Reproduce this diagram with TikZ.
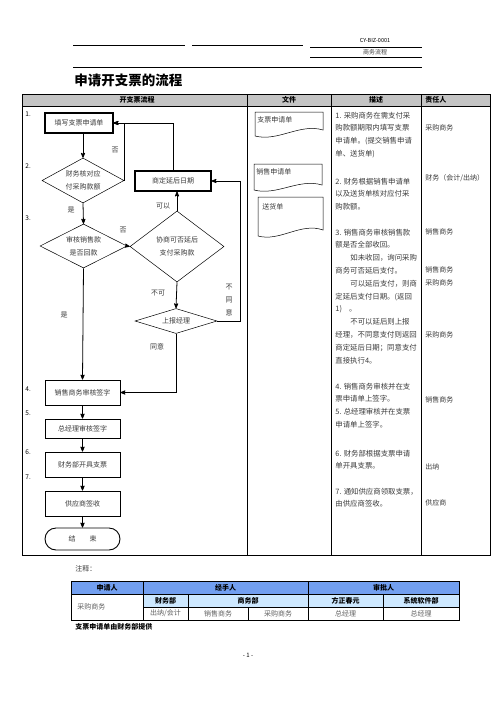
\documentclass[tikz,border=0pt]{standalone}
\usepackage{fontspec}
\setmainfont{Noto Sans CJK SC}
\usepackage{tikz}
\usetikzlibrary{arrows, shapes.geometric}

\definecolor{hdrgray}{HTML}{C4C4C4}
\definecolor{noteblue}{HTML}{729FF0}
\definecolor{notelight}{HTML}{CDE8FF}
\definecolor{txtgray}{HTML}{3A3A3A}

\newcommand{\smallcn}{\fontsize{7}{12.8}\selectfont}
\newcommand{\desccn}{\fontsize{7.4}{12.8}\selectfont}

\begin{document}
\begin{tikzpicture}[x=1pt, y=-1pt, >=stealth', line width=0.8pt,
	proc/.style={draw, line width=0.9pt, minimum height=20pt, inner sep=0pt, font=\smallcn, text=txtgray},
	decide/.style={draw, line width=0.5pt, diamond, aspect=2, inner sep=0pt, align=center, font=\smallcn, text=txtgray},
	lbl/.style={font=\smallcn, text=txtgray, inner sep=0pt},
	desc/.style={anchor=north west, align=left, inner sep=0pt, font=\desccn, text=txtgray},
	hdr/.style={font=\fontsize{7}{8}\selectfont\bfseries, inner sep=0pt},
	cell/.style={font=\fontsize{7}{8}\selectfont, text=txtgray!80, inner sep=0pt}]
	\useasboundingbox (0,0) rectangle (496,702);

	% page head
	\draw (73,45) -- (185,45) (192,45) -- (303,45) (310,47) -- (422,47) (310,57) -- (422,57) (73,67) -- (422,67);
	\node[font=\fontsize{5.5}{6}\selectfont, inner sep=0pt] (docno) at (375,40) {CY-BIZ-0001};
	\node[font=\fontsize{6}{7}\selectfont, text=txtgray, inner sep=0pt] (doctype) at (375,52) {商务流程};
	\node[anchor=west, font=\fontsize{13.5}{15}\selectfont\bfseries, inner sep=0pt] (title) at (74,80) {申请开支票的流程};

	% main table
	\fill[hdrgray] (22,94) rectangle (490,106);
	\draw[line width=1pt] (22,94) rectangle (490,555);
	\draw[line width=1pt] (22,106) -- (490,106) (247,94) -- (247,555) (331,94) -- (331,555) (421,94) -- (421,555);
	\node[hdr] (hflow) at (137,100) {开支票流程};
	\node[hdr] (hfile) at (289,100) {文件};
	\node[hdr] (hdesc) at (376,100) {描述};
	\node[hdr, anchor=west] (hresp) at (425,100) {责任人};

	% step numbers
	\foreach \n/\y in {1/114, 2/166, 3/218, 4/389, 5/413, 6/452, 7/477}
		\node[font=\fontsize{6.5}{7}\selectfont, inner sep=0pt, anchor=west] (num\n) at (25,\y) {\n.};

	\node[proc, line width=1.1pt, minimum width=68pt] (fill) at (79,123) {填写支票申请单};
	\node[decide, minimum width=82pt, minimum height=45pt] (chk) at (83,180.5) {财务核对应\\付采购款额};
	\node[decide, minimum width=87pt, minimum height=44pt] (rcv) at (83.5,246) {审核销售款\\是否回款};
	\node[decide, aspect=1.3, minimum width=94pt, minimum height=71pt] (ngt) at (177,246.5) {协商可否延后\\支付采购款};
	\node[proc, line width=1.1pt, minimum width=76pt] (delay) at (173,181) {商定延后日期};
	\node[decide, minimum width=82pt, minimum height=25pt] (mgr) at (176,321) {上报经理};
	\node[proc, minimum width=75pt, minimum height=25pt] (sgn) at (82.5,392.5) {销售商务审核签字};
	\node[proc, minimum width=75pt, minimum height=19pt] (gm) at (82.5,428.5) {总经理审核签字};
	\node[proc, minimum width=75pt, minimum height=25pt] (pay) at (82.5,464.5) {财务部开具支票};
	\node[proc, minimum width=75pt, minimum height=25pt] (sup) at (82.5,503.5) {供应商签收};
	\node[proc, rounded corners=11pt, minimum width=75pt, minimum height=22pt] (fin) at (82.5,539) {结\hspace{14pt}束};

	\path[->] (fill.south -| chk.north) edge (chk.north)
		(chk.south) edge (rcv.north)
		(rcv.east) edge (ngt.west)
		(ngt.north) edge (delay.south -| ngt.north)
		(ngt.south) edge (mgr.north)
		(rcv.south) edge (sgn.north)
		(sgn) edge (gm)
		(gm) edge (pay)
		(pay) edge (sup)
		(sup) edge (fin);
	\draw[->] (chk.east) |- (fill.east);
	\draw[->] (delay.north) |- (fill.east);
	\coordinate (rback) at (240,321);
	\draw[->] (mgr.east) -- (rback) |- (delay.east);
	\draw[->] (mgr.south) |- (sgn.east);

	\node[lbl] (no1) at (115,150) {否};
	\node[lbl] (yes1) at (71,210) {是};
	\node[lbl] (no2) at (123,230) {否};
	\node[lbl] (can) at (163,206) {可以};
	\node[lbl] (cannot) at (158,293) {不可};
	\node[lbl, align=center, font=\fontsize{7}{13}\selectfont] (disagree) at (229,300) {不\\同\\意};
	\node[lbl] (agree) at (157,347) {同意};
	\node[lbl] (yes2) at (64,315) {是};

	% documents
	\draw[line width=0.5pt] (255,136) -- (255,112) -- (323,112) -- (323,130) .. controls (300,123) and (278,142) .. (255,136);
	\draw[line width=0.5pt] (254,190) -- (254,164) -- (322,164) -- (322,185) .. controls (299,178) and (277,196) .. (254,190);
	\draw[line width=0.5pt] (258,236) -- (258,197) -- (323,197) -- (323,230) .. controls (301,222) and (280,242) .. (258,236);
	\node[lbl, anchor=west] (docA) at (257,120) {支票申请单};
	\node[lbl, anchor=west] (docB) at (256,172) {销售申请单};
	\node[lbl, anchor=west] (docC) at (262,207) {送货单};

	% descriptions
	\node[desc] (d1) at (335,111.5) {1. 采购商务在需支付采\\购款额期限内填写支票\\申请单。(提交销售申请\\单、送货单)};
	\node[desc] (d2) at (335,177.5) {2. 财务根据销售申请单\\以及送货单核对应付采\\购款额。};
	\node[desc] (d3) at (335,228.5) {3. 销售商务审核销售款\\额是否全部收回。\\\hspace*{15pt}如未收回，询问采购\\商务可否延后支付。\\\hspace*{15pt}可以延后支付，则商\\定延后支付日期。(返回\\1)\hspace{7pt}。\\\hspace*{15pt}不可以延后则上报\\经理，不同意支付则返回\\商定延后日期；同意支付\\直接执行4。};
	\node[desc] (d4) at (335,382.5) {4. 销售商务审核并在支\\票申请单上签字。\\5. 总经理审核并在支票\\申请单上签字。};
	\node[desc] (d6) at (335,449.5) {6. 财务部根据支票申请\\单开具支票。};
	\node[desc] (d7) at (335,487.5) {7. 通知供应商领取支票，\\由供应商签收。};

	% responsibles
	\foreach \t/\y [count=\i] in {采购商务/128, {财务（会计/出纳）}/178, 销售商务/232, 销售商务/270, 采购商务/283, 采购商务/335, 销售商务/400, 出纳/467, 供应商/503}
		\node[lbl, anchor=west] (resp\i) at (425,\y) {\t};

	% notes
	\node[lbl, anchor=west] (notes) at (75,569) {注释：};
	\fill[noteblue] (71,581) rectangle (459,594);
	\fill[notelight] (143,594) rectangle (459,607);
	\draw[line width=0.6pt] (71,581) rectangle (459,620)
		(71,594) -- (459,594) (143,607) -- (459,607)
		(143,581) -- (143,620) (308,581) -- (308,620)
		(188,594) -- (188,620) (383,594) -- (383,620) (248,607) -- (248,620);
	\node[hdr] (napp) at (107,587.5) {申请人};
	\node[hdr] (nhand) at (225.5,587.5) {经手人};
	\node[hdr] (nappr) at (383.5,587.5) {审批人};
	\node[cell, anchor=west] (nbuy) at (77,607) {采购商务};
	\node[hdr] (nfin) at (165.5,600.5) {财务部};
	\node[hdr] (nbiz) at (248,600.5) {商务部};
	\node[hdr] (nfz) at (345.5,600.5) {方正春元};
	\node[hdr] (nsys) at (421,600.5) {系统软件部};
	\node[cell] (ncash) at (165.5,613.5) {出纳/会计};
	\node[cell] (nsale) at (218,613.5) {销售商务};
	\node[cell] (npur) at (278,613.5) {采购商务};
	\node[cell] (ngm1) at (345.5,613.5) {总经理};
	\node[cell] (ngm2) at (421,613.5) {总经理};
	\node[hdr, anchor=west] (nsrc) at (75,627) {支票申请单由财务部提供};

	\node[font=\fontsize{6}{7}\selectfont, inner sep=0pt] (pageno) at (248,655) {- 1 -};
\end{tikzpicture}
\end{document}
